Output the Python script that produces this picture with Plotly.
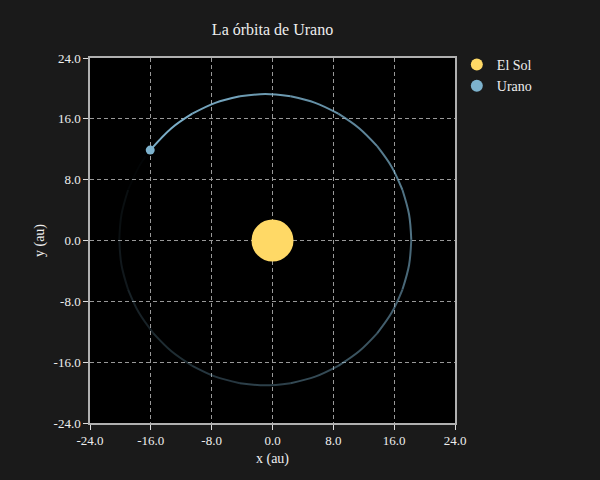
import plotly.graph_objects as go

orbit_x = [-16.08, -13.29, -10.55, -7.52, -4.28, -0.95, 2.38, 5.62, 8.65, 11.39,
           13.76, 15.68, 17.09, 17.96, 18.25, 17.96, 17.09, 15.68, 13.76, 11.39,
           8.65, 5.62, 2.38, -0.95, -4.28, -7.52, -10.55, -13.29, -15.66, -17.58,
           -18.99, -19.86, -20.15, -19.86, -18.99, -17.58, -16.68]
orbit_y = [11.89, 14.77, 16.68, 18.10, 18.96, 19.25, 18.96, 18.10, 16.68, 14.77,
           12.41, 9.68, 6.65, 3.42, 0.10, -3.22, -6.45, -9.48, -12.21, -14.57,
           -16.48, -17.90, -18.76, -19.05, -18.76, -17.90, -16.48, -14.57, -12.21, -9.48,
           -6.45, -3.22, 0.10, 3.42, 6.65, 9.68, 11.08]

sun_x = [0.0]
sun_y = [0.0]
planet_x = [-16.08]
planet_y = [11.89]

tick_vals = [-24, -16, -8, 0, 8, 16, 24]
tick_text = ["-24.0", "-16.0", "-8.0", "0.0", "8.0", "16.0", "24.0"]

planet_rgb = (125, 178, 205)
sun_color = "#ffd966"
font_family = "Liberation Serif, Times New Roman, serif"

fig = go.Figure()

# estela con desvanecimiento, en tramos de dos intervalos suavizados
n = len(orbit_x) - 1
for i in range(0, n, 2):
    alpha = 1.0 - (i + 1.0) / n
    fig.add_trace(
        go.Scatter(
            x=orbit_x[i:i + 3],
            y=orbit_y[i:i + 3],
            mode="lines",
            line=dict(color="rgba(%d,%d,%d,%.3f)" % (planet_rgb + (max(alpha, 0.02),)),
                      width=2, shape="spline"),
            hoverinfo="skip",
            showlegend=False,
        )
    )

fig.add_trace(
    go.Scatter(
        x=sun_x, y=sun_y, mode="markers", name="El Sol",
        marker=dict(color=sun_color, size=42, line=dict(width=0)),
    )
)
fig.add_trace(
    go.Scatter(
        x=planet_x, y=planet_y, mode="markers", name="Urano",
        marker=dict(color="rgb(%d,%d,%d)" % planet_rgb, size=9, line=dict(width=0)),
    )
)

axis_style = dict(
    range=[-24, 24],
    tickvals=tick_vals,
    ticktext=tick_text,
    showline=True,
    linecolor="#b0b0b0",
    linewidth=1.5,
    mirror=True,
    ticks="outside",
    ticklen=5,
    tickcolor="#dddddd",
    showgrid=True,
    gridcolor="#999999",
    griddash="4px,3px",
    gridwidth=1,
    zeroline=False,
    tickfont=dict(size=13, color="#eeeeee"),
)

fig.update_layout(
    width=600,
    height=480,
    margin=dict(l=90, r=145, t=58, b=57),
    paper_bgcolor="#1a1a1a",
    plot_bgcolor="#000000",
    font=dict(family=font_family, color="#eeeeee", size=13),
    title=dict(text="La órbita de Urano", x=0.5, xref="paper", xanchor="center",
               y=0.95, yref="container", font=dict(size=16, color="#eeeeee")),
    xaxis=dict(axis_style, title=dict(text="x (au)", font=dict(size=14), standoff=6)),
    yaxis=dict(axis_style, title=dict(text="y (au)", font=dict(size=14), standoff=6)),
    legend=dict(x=1.005, y=1.025, xanchor="left", yanchor="top", itemsizing="constant",
                bgcolor="rgba(0,0,0,0)", font=dict(size=14, color="#eeeeee")),
)

fig.write_html("out.html", config={"displayModeBar": False},
               post_script="document.body.style.margin='0';")
